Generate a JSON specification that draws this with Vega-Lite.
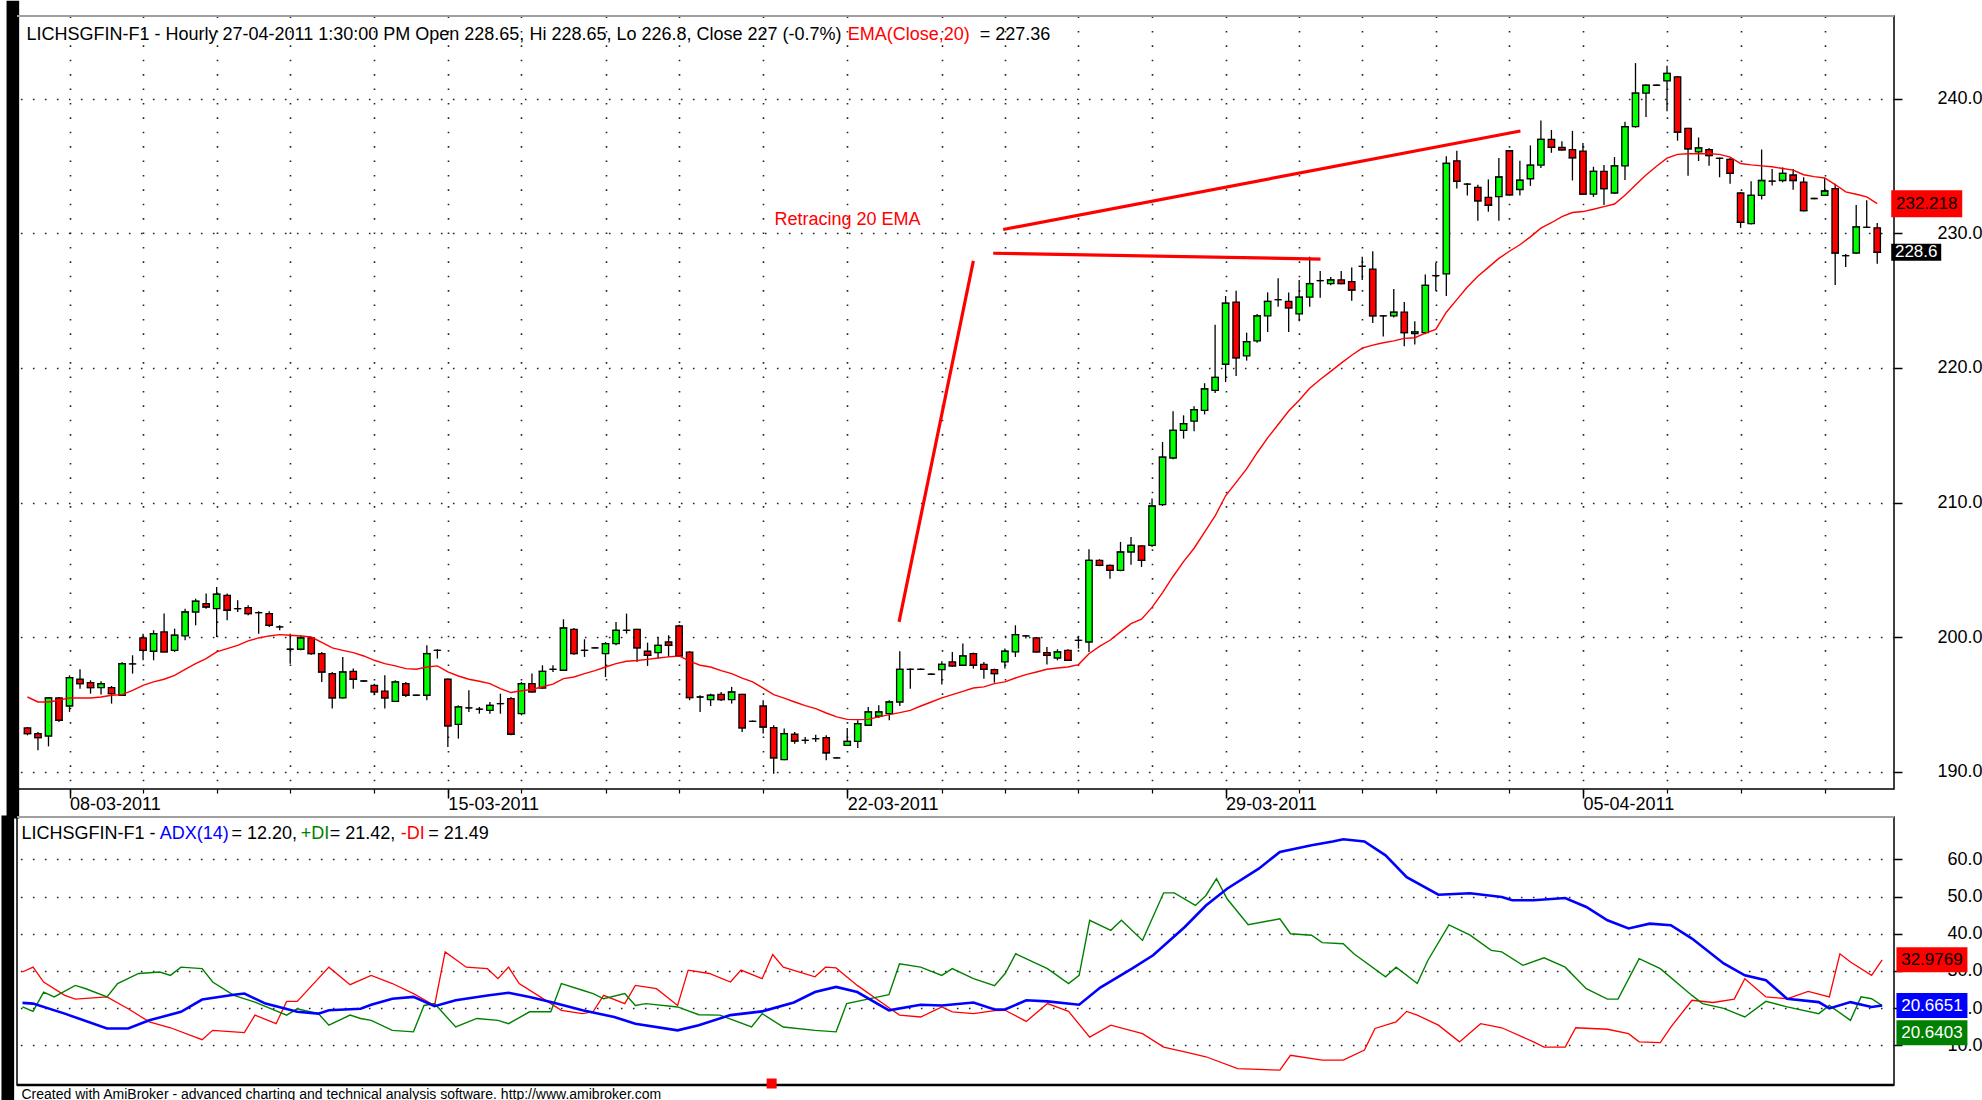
{
"$schema":"https://vega.github.io/schema/vega-lite/v6.json",
"padding":0,
"autosize":{"type":"pad"},
"background":"#ffffff",
"spacing":28,
"bounds":"flush",
"config":{"view":{"stroke":"#000","strokeWidth":1.5},"font":"Liberation Sans","text":{"font":"Liberation Sans"}},
"datasets":{
"ohlc":[
{"i":0,"o":193.24,"h":193.31,"l":192.69,"c":192.82,"e":195.54},
{"i":1,"o":192.82,"h":192.94,"l":191.58,"c":192.52,"e":195.17},
{"i":2,"o":192.64,"h":195.54,"l":191.87,"c":195.47,"e":195.17},
{"i":3,"o":195.47,"h":195.54,"l":193.68,"c":193.81,"e":195.3},
{"i":4,"o":194.87,"h":197.15,"l":194.43,"c":196.98,"e":195.47},
{"i":5,"o":196.86,"h":197.6,"l":196.16,"c":196.53,"e":195.47},
{"i":6,"o":196.61,"h":196.78,"l":195.79,"c":196.24,"e":195.47},
{"i":7,"o":196.24,"h":196.71,"l":195.72,"c":196.53,"e":195.54},
{"i":8,"o":196.24,"h":196.36,"l":195.05,"c":195.79,"e":195.67},
{"i":9,"o":195.67,"h":198.15,"l":195.67,"c":198.02,"e":195.72},
{"i":10,"o":198.0,"h":198.64,"l":197.28,"c":198.0,"e":196.04},
{"i":11,"o":199.93,"h":200.25,"l":198.27,"c":199.01,"e":196.41},
{"i":12,"o":198.94,"h":200.5,"l":198.27,"c":200.25,"e":196.66},
{"i":13,"o":200.38,"h":201.74,"l":198.89,"c":198.89,"e":196.86},
{"i":14,"o":199.01,"h":200.62,"l":198.89,"c":200.13,"e":197.15},
{"i":15,"o":200.08,"h":202.11,"l":199.76,"c":201.86,"e":197.6},
{"i":16,"o":201.86,"h":202.85,"l":200.87,"c":202.66,"e":198.02},
{"i":17,"o":202.48,"h":203.23,"l":202.11,"c":202.23,"e":198.39},
{"i":18,"o":202.11,"h":203.72,"l":200.0,"c":203.18,"e":198.89},
{"i":19,"o":203.1,"h":203.23,"l":201.24,"c":201.99,"e":199.14},
{"i":20,"o":202.11,"h":202.73,"l":201.86,"c":202.11,"e":199.38},
{"i":21,"o":202.18,"h":202.36,"l":201.62,"c":201.74,"e":199.71},
{"i":22,"o":201.81,"h":201.91,"l":200.25,"c":201.81,"e":199.93},
{"i":23,"o":201.74,"h":201.91,"l":200.75,"c":200.87,"e":200.08},
{"i":24,"o":200.75,"h":200.87,"l":200.5,"c":200.75,"e":200.18},
{"i":25,"o":199.09,"h":200.25,"l":198.02,"c":199.09,"e":200.13},
{"i":26,"o":199.09,"h":200.13,"l":199.01,"c":199.93,"e":200.08},
{"i":27,"o":199.93,"h":200.0,"l":198.69,"c":198.77,"e":200.0},
{"i":28,"o":198.77,"h":198.89,"l":196.66,"c":197.4,"e":199.6},
{"i":29,"o":197.28,"h":197.4,"l":194.68,"c":195.47,"e":199.19},
{"i":30,"o":195.47,"h":198.52,"l":195.42,"c":197.4,"e":199.01},
{"i":31,"o":197.45,"h":197.65,"l":196.16,"c":196.86,"e":198.84},
{"i":32,"o":196.73,"h":196.78,"l":196.7,"c":196.73,"e":198.59},
{"i":33,"o":196.41,"h":196.53,"l":195.67,"c":195.92,"e":198.27},
{"i":34,"o":195.97,"h":197.15,"l":194.68,"c":195.47,"e":198.02},
{"i":35,"o":195.22,"h":196.78,"l":195.17,"c":196.66,"e":197.85},
{"i":36,"o":196.53,"h":196.66,"l":195.54,"c":195.67,"e":197.65},
{"i":37,"o":195.67,"h":195.7,"l":195.64,"c":195.67,"e":197.6},
{"i":38,"o":195.67,"h":199.38,"l":195.3,"c":198.77,"e":197.77},
{"i":39,"o":199.01,"h":199.09,"l":198.4,"c":199.01,"e":197.85},
{"i":40,"o":196.86,"h":196.91,"l":191.83,"c":193.39,"e":197.4},
{"i":41,"o":193.51,"h":194.92,"l":192.45,"c":194.8,"e":197.1},
{"i":42,"o":194.73,"h":196.04,"l":194.43,"c":194.73,"e":196.86},
{"i":43,"o":194.63,"h":194.8,"l":194.3,"c":194.63,"e":196.71},
{"i":44,"o":194.55,"h":195.17,"l":194.3,"c":194.92,"e":196.53},
{"i":45,"o":195.05,"h":195.79,"l":194.3,"c":195.05,"e":196.16},
{"i":46,"o":195.42,"h":195.54,"l":192.69,"c":192.77,"e":195.87},
{"i":47,"o":194.3,"h":196.66,"l":194.18,"c":196.53,"e":196.0},
{"i":48,"o":196.53,"h":197.28,"l":195.87,"c":195.92,"e":196.1},
{"i":49,"o":196.21,"h":197.9,"l":196.16,"c":197.45,"e":196.3},
{"i":50,"o":197.6,"h":197.9,"l":197.4,"c":197.6,"e":196.5},
{"i":51,"o":197.53,"h":201.32,"l":197.53,"c":200.67,"e":196.91},
{"i":52,"o":200.57,"h":200.67,"l":198.69,"c":198.77,"e":197.03},
{"i":53,"o":199.01,"h":199.83,"l":198.52,"c":199.01,"e":197.28},
{"i":54,"o":199.19,"h":199.25,"l":199.15,"c":199.19,"e":197.5},
{"i":55,"o":198.77,"h":199.63,"l":197.03,"c":199.51,"e":197.77},
{"i":56,"o":199.51,"h":201.12,"l":199.38,"c":200.5,"e":198.02},
{"i":57,"o":200.5,"h":201.74,"l":200.25,"c":200.5,"e":198.2},
{"i":58,"o":200.57,"h":200.62,"l":198.15,"c":199.19,"e":198.25},
{"i":59,"o":198.94,"h":199.58,"l":197.85,"c":198.64,"e":198.34},
{"i":60,"o":198.84,"h":200.0,"l":198.4,"c":199.38,"e":198.44},
{"i":61,"o":199.63,"h":200.13,"l":198.52,"c":199.38,"e":198.52},
{"i":62,"o":200.82,"h":200.92,"l":198.52,"c":198.59,"e":198.59},
{"i":63,"o":198.87,"h":198.95,"l":195.3,"c":195.5,"e":198.2},
{"i":64,"o":195.54,"h":195.67,"l":194.43,"c":195.54,"e":197.9},
{"i":65,"o":195.35,"h":195.79,"l":194.87,"c":195.67,"e":197.77},
{"i":66,"o":195.74,"h":195.91,"l":195.24,"c":195.35,"e":197.5},
{"i":67,"o":195.35,"h":196.29,"l":195.05,"c":195.91,"e":197.28},
{"i":68,"o":195.74,"h":195.79,"l":192.94,"c":193.24,"e":196.95},
{"i":69,"o":193.73,"h":193.8,"l":193.68,"c":193.73,"e":196.66},
{"i":70,"o":194.87,"h":195.3,"l":192.82,"c":193.31,"e":196.2},
{"i":71,"o":193.26,"h":193.44,"l":189.84,"c":191.01,"e":195.72},
{"i":72,"o":190.88,"h":193.19,"l":190.83,"c":192.82,"e":195.45},
{"i":73,"o":192.77,"h":192.94,"l":192.07,"c":192.27,"e":195.17},
{"i":74,"o":192.32,"h":192.57,"l":192.07,"c":192.32,"e":194.9},
{"i":75,"o":192.44,"h":192.74,"l":192.2,"c":192.44,"e":194.68},
{"i":76,"o":192.52,"h":192.69,"l":190.83,"c":191.38,"e":194.35},
{"i":77,"o":191.01,"h":191.05,"l":190.97,"c":191.01,"e":194.06},
{"i":78,"o":191.95,"h":193.24,"l":191.9,"c":192.24,"e":193.88},
{"i":79,"o":192.24,"h":193.81,"l":191.75,"c":193.56,"e":193.86},
{"i":80,"o":193.44,"h":194.8,"l":193.39,"c":194.43,"e":193.88},
{"i":81,"o":194.11,"h":194.92,"l":193.98,"c":194.43,"e":194.06},
{"i":82,"o":194.3,"h":195.3,"l":193.81,"c":195.17,"e":194.23},
{"i":83,"o":195.17,"h":198.94,"l":194.87,"c":197.6,"e":194.38},
{"i":84,"o":197.6,"h":197.65,"l":196.16,"c":197.6,"e":194.55},
{"i":85,"o":197.6,"h":197.65,"l":197.55,"c":197.6,"e":194.87},
{"i":86,"o":197.23,"h":197.28,"l":197.18,"c":197.23,"e":195.17},
{"i":87,"o":197.57,"h":198.2,"l":196.46,"c":197.97,"e":195.47},
{"i":88,"o":198.15,"h":198.89,"l":197.77,"c":197.85,"e":195.72},
{"i":89,"o":197.9,"h":199.51,"l":197.85,"c":198.59,"e":195.96},
{"i":90,"o":198.77,"h":198.84,"l":197.65,"c":197.9,"e":196.21},
{"i":91,"o":197.97,"h":198.15,"l":196.9,"c":197.6,"e":196.29},
{"i":92,"o":197.57,"h":197.65,"l":196.61,"c":197.28,"e":196.53},
{"i":93,"o":198.15,"h":199.14,"l":197.65,"c":198.94,"e":196.66},
{"i":94,"o":198.89,"h":200.87,"l":198.52,"c":200.18,"e":196.95},
{"i":95,"o":200.08,"h":200.13,"l":199.88,"c":200.08,"e":197.2},
{"i":96,"o":199.93,"h":200.0,"l":198.84,"c":198.89,"e":197.4},
{"i":97,"o":198.84,"h":199.26,"l":197.95,"c":198.64,"e":197.6},
{"i":98,"o":198.44,"h":199.09,"l":198.27,"c":198.89,"e":197.7},
{"i":99,"o":199.01,"h":199.09,"l":198.27,"c":198.27,"e":197.77},
{"i":100,"o":199.75,"h":200.0,"l":199.14,"c":199.75,"e":197.95},
{"i":101,"o":199.63,"h":206.52,"l":198.89,"c":205.7,"e":198.76},
{"i":102,"o":205.7,"h":205.78,"l":205.26,"c":205.33,"e":199.3},
{"i":103,"o":205.33,"h":205.4,"l":204.34,"c":204.96,"e":199.76},
{"i":104,"o":204.96,"h":207.07,"l":204.89,"c":206.32,"e":200.38},
{"i":105,"o":206.32,"h":207.44,"l":205.38,"c":206.82,"e":200.99},
{"i":106,"o":206.77,"h":206.82,"l":205.21,"c":205.7,"e":201.32},
{"i":107,"o":206.82,"h":210.29,"l":206.69,"c":209.74,"e":202.2},
{"i":108,"o":209.84,"h":214.5,"l":209.74,"c":213.38,"e":203.3},
{"i":109,"o":213.31,"h":216.78,"l":213.21,"c":215.37,"e":204.5},
{"i":110,"o":215.37,"h":216.48,"l":214.75,"c":215.86,"e":205.6},
{"i":111,"o":216.05,"h":217.15,"l":215.3,"c":216.9,"e":206.6},
{"i":112,"o":216.85,"h":218.87,"l":216.55,"c":218.45,"e":207.8},
{"i":113,"o":218.34,"h":223.22,"l":218.15,"c":219.3,"e":209.0},
{"i":114,"o":220.28,"h":225.35,"l":218.95,"c":224.82,"e":210.5},
{"i":115,"o":224.9,"h":225.75,"l":219.4,"c":220.76,"e":211.5},
{"i":116,"o":220.9,"h":222.63,"l":220.55,"c":221.96,"e":212.5},
{"i":117,"o":222.02,"h":224.02,"l":221.88,"c":223.88,"e":213.7},
{"i":118,"o":223.88,"h":225.62,"l":222.68,"c":224.95,"e":214.8},
{"i":119,"o":225.08,"h":226.68,"l":224.55,"c":225.08,"e":215.8},
{"i":120,"o":224.95,"h":225.62,"l":222.68,"c":224.47,"e":216.8},
{"i":121,"o":224.02,"h":226.55,"l":223.48,"c":225.27,"e":217.6},
{"i":122,"o":225.27,"h":228.28,"l":224.55,"c":226.28,"e":218.5},
{"i":123,"o":226.5,"h":227.22,"l":225.22,"c":226.5,"e":219.14},
{"i":124,"o":226.28,"h":226.76,"l":226.15,"c":226.55,"e":219.75},
{"i":125,"o":226.55,"h":227.22,"l":226.23,"c":226.28,"e":220.36},
{"i":126,"o":226.42,"h":227.48,"l":225.0,"c":225.8,"e":220.95},
{"i":127,"o":227.56,"h":228.28,"l":226.55,"c":227.56,"e":221.48},
{"i":128,"o":227.35,"h":228.68,"l":223.35,"c":223.88,"e":221.7},
{"i":129,"o":223.88,"h":223.93,"l":222.34,"c":223.88,"e":221.88},
{"i":130,"o":223.88,"h":225.88,"l":223.75,"c":224.15,"e":222.02},
{"i":131,"o":224.15,"h":224.9,"l":221.62,"c":222.63,"e":222.2},
{"i":132,"o":222.55,"h":223.48,"l":221.75,"c":222.68,"e":222.25},
{"i":133,"o":222.63,"h":226.95,"l":222.5,"c":226.15,"e":222.6},
{"i":134,"o":226.87,"h":227.83,"l":225.75,"c":226.87,"e":222.87},
{"i":135,"o":227.0,"h":235.75,"l":225.35,"c":235.22,"e":224.15},
{"i":136,"o":235.4,"h":236.15,"l":233.35,"c":233.88,"e":225.08},
{"i":137,"o":233.67,"h":233.75,"l":232.82,"c":233.67,"e":226.02},
{"i":138,"o":233.43,"h":233.62,"l":230.95,"c":232.42,"e":226.82},
{"i":139,"o":232.68,"h":234.02,"l":231.62,"c":232.1,"e":227.48},
{"i":140,"o":232.74,"h":235.62,"l":230.95,"c":234.2,"e":228.15},
{"i":141,"o":236.15,"h":236.2,"l":232.82,"c":232.87,"e":228.68},
{"i":142,"o":233.27,"h":235.4,"l":232.82,"c":233.96,"e":229.16},
{"i":143,"o":234.07,"h":236.55,"l":233.54,"c":235.08,"e":229.75},
{"i":144,"o":235.08,"h":238.4,"l":234.87,"c":237.0,"e":230.4},
{"i":145,"o":237.0,"h":237.7,"l":236.0,"c":236.4,"e":230.8},
{"i":146,"o":236.41,"h":236.85,"l":236.17,"c":236.22,"e":231.25},
{"i":147,"o":236.24,"h":237.63,"l":233.94,"c":235.63,"e":231.56},
{"i":148,"o":236.12,"h":236.73,"l":232.92,"c":232.92,"e":231.63},
{"i":149,"o":232.92,"h":234.96,"l":232.72,"c":234.62,"e":231.8},
{"i":150,"o":234.62,"h":235.1,"l":232.12,"c":233.33,"e":232.0},
{"i":151,"o":233.01,"h":235.68,"l":232.96,"c":235.03,"e":232.19},
{"i":152,"o":235.03,"h":238.3,"l":233.98,"c":237.94,"e":232.84},
{"i":153,"o":237.94,"h":242.67,"l":237.87,"c":240.44,"e":233.6},
{"i":154,"o":240.44,"h":241.1,"l":238.67,"c":241.02,"e":234.35},
{"i":155,"o":241.02,"h":241.07,"l":240.97,"c":241.02,"e":235.0},
{"i":156,"o":241.34,"h":242.48,"l":239.08,"c":241.9,"e":235.6},
{"i":157,"o":241.65,"h":241.7,"l":236.9,"c":237.53,"e":235.88},
{"i":158,"o":237.82,"h":237.87,"l":234.3,"c":236.29,"e":235.93},
{"i":159,"o":236.07,"h":237.14,"l":235.39,"c":236.36,"e":235.93},
{"i":160,"o":236.24,"h":236.36,"l":235.03,"c":235.8,"e":235.93},
{"i":161,"o":235.59,"h":235.64,"l":234.18,"c":235.59,"e":235.88},
{"i":162,"o":235.51,"h":235.64,"l":233.69,"c":234.47,"e":235.68},
{"i":163,"o":233.01,"h":233.09,"l":230.42,"c":230.83,"e":235.2},
{"i":164,"o":230.73,"h":233.89,"l":230.66,"c":232.84,"e":235.1},
{"i":165,"o":232.84,"h":236.24,"l":232.53,"c":233.94,"e":235.03},
{"i":166,"o":233.89,"h":234.79,"l":233.57,"c":233.89,"e":234.96},
{"i":167,"o":233.94,"h":234.91,"l":233.81,"c":234.47,"e":234.83},
{"i":168,"o":234.35,"h":234.79,"l":233.26,"c":233.94,"e":234.71},
{"i":169,"o":233.82,"h":234.18,"l":231.63,"c":231.7,"e":234.37},
{"i":170,"o":232.6,"h":232.65,"l":232.55,"c":232.6,"e":234.23},
{"i":171,"o":232.84,"h":234.13,"l":232.84,"c":233.16,"e":234.13},
{"i":172,"o":233.33,"h":233.69,"l":226.17,"c":228.55,"e":233.64},
{"i":173,"o":228.35,"h":228.48,"l":227.5,"c":228.35,"e":233.09},
{"i":174,"o":228.55,"h":232.12,"l":228.48,"c":230.49,"e":232.92},
{"i":175,"o":230.46,"h":232.48,"l":230.42,"c":230.46,"e":232.72},
{"i":176,"o":230.42,"h":230.78,"l":227.75,"c":228.6,"e":232.22}
],
"ann":[
{"g":"a","i":82.93,"p":201.12},{"g":"a","i":90.0,"p":227.96},
{"g":"b","i":91.89,"p":228.53},{"g":"b","i":123.03,"p":228.1},
{"g":"c","i":92.84,"p":230.3},{"g":"c","i":142.05,"p":237.62}
],
"adx":[
{"i":0,"v":21.4},{"i":1,"v":21.2},{"i":4,"v":18.5},{"i":8,"v":14.5},{"i":10,"v":14.5},{"i":12,"v":16.7},{"i":15,"v":19.0},{"i":17,"v":22.3},{"i":20,"v":23.6},{"i":21,"v":23.9},{"i":23,"v":21.2},{"i":26,"v":19.0},{"i":28,"v":18.5},{"i":29,"v":19.4},{"i":32,"v":19.8},{"i":33,"v":20.9},{"i":35,"v":22.5},{"i":37,"v":23.0},{"i":39,"v":20.5},{"i":41,"v":22.1},{"i":44,"v":23.4},{"i":46,"v":24.1},{"i":48,"v":23.0},{"i":50,"v":21.6},{"i":53,"v":19.4},{"i":54,"v":18.8},{"i":56,"v":17.6},{"i":58,"v":15.8},{"i":62,"v":14.0},{"i":64,"v":15.4},{"i":67,"v":18.1},{"i":70,"v":19.1},{"i":73,"v":21.5},{"i":75,"v":24.3},{"i":77,"v":25.7},{"i":79,"v":24.3},{"i":82,"v":19.4},{"i":85,"v":20.9},{"i":87,"v":20.7},{"i":90,"v":21.5},{"i":92,"v":19.6},{"i":93,"v":19.6},{"i":95,"v":22.1},{"i":97,"v":21.8},{"i":100,"v":20.9},{"i":102,"v":25.5},{"i":105,"v":30.6},{"i":107,"v":34.2},{"i":110,"v":41.8},{"i":112,"v":47.6},{"i":114,"v":52.1},{"i":117,"v":57.5},{"i":119,"v":62.0},{"i":122,"v":63.8},{"i":124,"v":64.8},{"i":125,"v":65.4},{"i":127,"v":64.8},{"i":129,"v":61.1},{"i":131,"v":55.2},{"i":134,"v":50.5},{"i":137,"v":50.9},{"i":140,"v":49.9},{"i":141,"v":49.0},{"i":143,"v":49.0},{"i":146,"v":49.6},{"i":148,"v":47.2},{"i":150,"v":43.6},{"i":152,"v":41.4},{"i":154,"v":42.7},{"i":156,"v":42.3},{"i":158,"v":38.7},{"i":161,"v":32.0},{"i":163,"v":28.8},{"i":165,"v":27.5},{"i":167,"v":22.5},{"i":170,"v":21.6},{"i":171,"v":19.9},{"i":173,"v":21.6},{"i":175,"v":20.3},{"i":176,"v":20.67}
],
"pdi":[
{"i":0,"v":20.3},{"i":1,"v":19.1},{"i":2,"v":24.3},{"i":3,"v":23.0},{"i":5,"v":26.1},{"i":6,"v":25.2},{"i":8,"v":23.0},{"i":9,"v":26.6},{"i":11,"v":29.3},{"i":13,"v":29.7},{"i":14,"v":28.8},{"i":15,"v":31.0},{"i":17,"v":30.6},{"i":18,"v":27.0},{"i":20,"v":23.4},{"i":22,"v":21.6},{"i":25,"v":18.1},{"i":26,"v":19.8},{"i":28,"v":18.5},{"i":29,"v":15.4},{"i":31,"v":18.1},{"i":32,"v":17.2},{"i":33,"v":16.7},{"i":35,"v":14.0},{"i":37,"v":13.6},{"i":38,"v":20.7},{"i":39,"v":21.2},{"i":41,"v":14.9},{"i":43,"v":17.2},{"i":45,"v":16.7},{"i":46,"v":15.8},{"i":48,"v":19.0},{"i":50,"v":19.0},{"i":51,"v":26.6},{"i":53,"v":24.8},{"i":54,"v":23.9},{"i":55,"v":22.5},{"i":57,"v":23.9},{"i":58,"v":20.7},{"i":59,"v":21.2},{"i":62,"v":20.3},{"i":64,"v":18.2},{"i":66,"v":18.1},{"i":69,"v":14.9},{"i":70,"v":18.5},{"i":72,"v":14.9},{"i":75,"v":14.0},{"i":77,"v":13.6},{"i":78,"v":21.2},{"i":81,"v":23.0},{"i":82,"v":23.6},{"i":83,"v":31.9},{"i":85,"v":31.0},{"i":87,"v":28.8},{"i":88,"v":30.6},{"i":90,"v":27.9},{"i":92,"v":26.0},{"i":93,"v":29.3},{"i":94,"v":34.6},{"i":97,"v":30.6},{"i":99,"v":26.6},{"i":100,"v":28.8},{"i":101,"v":43.6},{"i":103,"v":40.9},{"i":104,"v":43.6},{"i":106,"v":38.2},{"i":108,"v":51.0},{"i":109,"v":51.0},{"i":111,"v":47.6},{"i":112,"v":50.3},{"i":113,"v":54.8},{"i":114,"v":49.4},{"i":116,"v":42.4},{"i":119,"v":44.0},{"i":120,"v":40.0},{"i":122,"v":39.6},{"i":123,"v":37.6},{"i":125,"v":37.3},{"i":126,"v":34.6},{"i":129,"v":28.4},{"i":130,"v":31.0},{"i":132,"v":26.6},{"i":133,"v":32.8},{"i":135,"v":42.4},{"i":137,"v":39.6},{"i":139,"v":35.5},{"i":140,"v":35.1},{"i":142,"v":31.5},{"i":144,"v":33.5},{"i":146,"v":31.0},{"i":148,"v":25.2},{"i":150,"v":22.4},{"i":151,"v":22.4},{"i":153,"v":33.3},{"i":155,"v":30.6},{"i":158,"v":23.4},{"i":159,"v":21.2},{"i":161,"v":19.9},{"i":163,"v":17.6},{"i":165,"v":21.8},{"i":167,"v":20.3},{"i":170,"v":18.5},{"i":171,"v":20.7},{"i":173,"v":16.7},{"i":174,"v":23.0},{"i":175,"v":22.5},{"i":176,"v":20.64}
],
"mdi":[
{"i":0,"v":29.7},{"i":1,"v":31.0},{"i":2,"v":27.0},{"i":4,"v":23.4},{"i":5,"v":22.4},{"i":8,"v":23.0},{"i":10,"v":19.8},{"i":12,"v":16.3},{"i":14,"v":14.7},{"i":17,"v":11.5},{"i":18,"v":14.0},{"i":21,"v":13.4},{"i":22,"v":18.1},{"i":24,"v":15.8},{"i":25,"v":21.8},{"i":26,"v":21.8},{"i":29,"v":31.0},{"i":31,"v":26.3},{"i":33,"v":28.8},{"i":35,"v":26.6},{"i":37,"v":23.9},{"i":39,"v":20.7},{"i":40,"v":35.1},{"i":42,"v":31.0},{"i":44,"v":30.6},{"i":45,"v":27.9},{"i":46,"v":31.0},{"i":47,"v":26.6},{"i":49,"v":23.0},{"i":51,"v":19.4},{"i":53,"v":18.5},{"i":54,"v":19.0},{"i":55,"v":23.4},{"i":57,"v":21.2},{"i":58,"v":26.1},{"i":60,"v":25.2},{"i":62,"v":20.7},{"i":63,"v":30.2},{"i":65,"v":29.3},{"i":67,"v":27.0},{"i":68,"v":30.2},{"i":70,"v":27.9},{"i":71,"v":34.4},{"i":72,"v":31.0},{"i":75,"v":28.4},{"i":76,"v":31.0},{"i":77,"v":30.8},{"i":79,"v":26.1},{"i":81,"v":22.1},{"i":83,"v":18.1},{"i":85,"v":17.6},{"i":87,"v":20.3},{"i":88,"v":19.0},{"i":90,"v":18.5},{"i":92,"v":19.3},{"i":93,"v":19.4},{"i":95,"v":16.4},{"i":97,"v":21.2},{"i":99,"v":19.1},{"i":101,"v":12.2},{"i":103,"v":15.4},{"i":106,"v":13.1},{"i":108,"v":9.5},{"i":110,"v":8.2},{"i":112,"v":6.9},{"i":115,"v":3.7},{"i":119,"v":3.3},{"i":120,"v":7.3},{"i":123,"v":6.0},{"i":125,"v":6.0},{"i":127,"v":8.7},{"i":128,"v":14.5},{"i":130,"v":16.3},{"i":131,"v":19.1},{"i":132,"v":18.1},{"i":134,"v":15.4},{"i":136,"v":10.9},{"i":138,"v":15.8},{"i":140,"v":14.7},{"i":143,"v":10.9},{"i":144,"v":9.5},{"i":146,"v":9.5},{"i":147,"v":14.7},{"i":150,"v":14.3},{"i":152,"v":13.1},{"i":153,"v":10.9},{"i":155,"v":10.7},{"i":156,"v":14.9},{"i":158,"v":22.1},{"i":160,"v":21.5},{"i":162,"v":22.4},{"i":163,"v":27.9},{"i":165,"v":23.0},{"i":167,"v":22.5},{"i":169,"v":24.5},{"i":171,"v":23.0},{"i":172,"v":34.6},{"i":173,"v":32.4},{"i":175,"v":28.8},{"i":176,"v":32.98}
]
},
"vconcat":[
{
"width":1877,"height":773,
"resolve":{"axis":{"x":"independent"}},
"layer":[
{"data":{"values":[{}]},"mark":{"type":"rect","color":"#000","clip":false},
 "encoding":{
  "x":{"datum":-1.99,"type":"quantitative","scale":{"domain":[-0.52,177.12],"nice":false,"zero":false},"axis":null},
  "x2":{"datum":-0.79},
  "y":{"datum":247.3,"type":"quantitative","scale":{"domain":[188.7,246.17],"nice":false,"zero":false},"title":null},
  "y2":{"datum":186.5}}},
{"data":{"name":"ohlc"},"mark":{"type":"rule","color":"#000","strokeWidth":1.3},
 "encoding":{
  "x":{"field":"i","type":"quantitative","scale":{"domain":[-0.52,177.12],"nice":false,"zero":false},"title":null,
   "axis":{"orient":"bottom","values":[4,11,18,25,33,40,47,55,62,70,78,87,93,100,107,114,121,127,134,141,148,156,163,171],"grid":true,"gridDash":[1.6,12.8],"gridColor":"#222","gridWidth":1.6,"gridOpacity":1,"labels":false,"domain":false,"ticks":true,"tickSize":4,"tickColor":"#000","tickWidth":1.2,"title":null}},
  "y":{"field":"l","type":"quantitative","scale":{"domain":[188.7,246.17],"nice":false,"zero":false},"title":null,
   "axis":{"orient":"right","values":[190,200,210,220,230,240],"format":".1f","grid":true,"gridDash":[1.6,10.4],"gridColor":"#222","gridWidth":1.6,"gridOpacity":1,"domain":false,"ticks":true,"tickSize":8,"tickColor":"#000","tickWidth":1.5,"labelFont":"Liberation Sans","labelFontSize":18,"labelColor":"#000","labelAlign":"right","labelBaseline":"middle","labelPadding":80,"title":null}},
  "y2":{"field":"h"}}},
{"data":{"name":"ohlc"},"mark":{"type":"bar","width":6.4,"stroke":"#000","strokeWidth":1.3},
 "encoding":{
  "x":{"field":"i","type":"quantitative","scale":{"domain":[-0.52,177.12],"nice":false,"zero":false},"axis":null},
  "y":{"field":"o","type":"quantitative","scale":{"domain":[188.7,246.17],"nice":false,"zero":false},"title":null},
  "y2":{"field":"c"},
  "color":{"condition":[{"test":"datum.c > datum.o","value":"#00ff00"},{"test":"datum.c < datum.o","value":"#ff0000"}],"value":"#000000"}}},
{"data":{"name":"ohlc"},"mark":{"type":"tick","orient":"horizontal","size":7.7,"thickness":1.3,"color":"#000"},
 "encoding":{
  "x":{"field":"i","type":"quantitative","scale":{"domain":[-0.52,177.12],"nice":false,"zero":false},"axis":null},
  "y":{"field":"c","type":"quantitative","scale":{"domain":[188.7,246.17],"nice":false,"zero":false},"title":null}}},
{"data":{"name":"ohlc"},"mark":{"type":"line","color":"#ff0000","strokeWidth":1.4},
 "encoding":{
  "x":{"field":"i","type":"quantitative","scale":{"domain":[-0.52,177.12],"nice":false,"zero":false},"title":null,
   "axis":{"orient":"bottom","values":[4,40,78,114,148],"grid":false,"domain":false,"ticks":true,"tickSize":9,"tickColor":"#000","tickWidth":1.5,
    "labelExpr":"datum.value == 4 ? '08-03-2011' : datum.value == 40 ? '15-03-2011' : datum.value == 78 ? '22-03-2011' : datum.value == 114 ? '29-03-2011' : '05-04-2011'",
    "labelFont":"Liberation Sans","labelFontSize":18,"labelColor":"#000","labelAlign":"left","labelBaseline":"alphabetic","labelPadding":11,"labelDx":5,"labelOverlap":false,"labelFlush":false,"labelBound":false,"title":null}},
  "y":{"field":"e","type":"quantitative","scale":{"domain":[188.7,246.17],"nice":false,"zero":false},"title":null}}},
{"data":{"name":"ann"},"mark":{"type":"line","color":"#ff0000","strokeWidth":3.2},
 "encoding":{
  "x":{"field":"i","type":"quantitative","scale":{"domain":[-0.52,177.12],"nice":false,"zero":false},"axis":null},
  "y":{"field":"p","type":"quantitative","scale":{"domain":[188.7,246.17],"nice":false,"zero":false},"title":null},
  "detail":{"field":"g","type":"nominal"}}},
{"data":{"values":[{}]},"mark":{"type":"rule","color":"#a0a0a0","strokeWidth":2},
 "encoding":{"y":{"datum":246.17,"type":"quantitative","scale":{"domain":[188.7,246.17],"nice":false,"zero":false},"title":null}}},
{"data":{"values":[{}]},"mark":{"type":"text","text":"LICHSGFIN-F1 - Hourly 27-04-2011 1:30:00 PM Open 228.65, Hi 228.65, Lo 226.8, Close 227 (-0.7%)","font":"Liberation Sans","fontSize":18,"align":"left","baseline":"alphabetic","color":"#000","clip":false},
 "encoding":{"x":{"datum":-0.095,"type":"quantitative","scale":{"domain":[-0.52,177.12],"nice":false,"zero":false},"axis":null},"y":{"datum":244.42,"type":"quantitative","scale":{"domain":[188.7,246.17],"nice":false,"zero":false},"title":null}}},
{"data":{"values":[{}]},"mark":{"type":"text","text":"EMA(Close,20)","font":"Liberation Sans","fontSize":18,"align":"left","baseline":"alphabetic","color":"#ff0000","clip":false},
 "encoding":{"x":{"datum":78.04,"type":"quantitative","scale":{"domain":[-0.52,177.12],"nice":false,"zero":false},"axis":null},"y":{"datum":244.42,"type":"quantitative","scale":{"domain":[188.7,246.17],"nice":false,"zero":false},"title":null}}},
{"data":{"values":[{}]},"mark":{"type":"text","text":"= 227.36","font":"Liberation Sans","fontSize":18,"align":"left","baseline":"alphabetic","color":"#000","clip":false},
 "encoding":{"x":{"datum":90.6,"type":"quantitative","scale":{"domain":[-0.52,177.12],"nice":false,"zero":false},"axis":null},"y":{"datum":244.42,"type":"quantitative","scale":{"domain":[188.7,246.17],"nice":false,"zero":false},"title":null}}},
{"data":{"values":[{}]},"mark":{"type":"text","text":"Retracing 20 EMA","font":"Liberation Sans","fontSize":18,"align":"left","baseline":"alphabetic","color":"#ff0000","clip":false},
 "encoding":{"x":{"datum":71.07,"type":"quantitative","scale":{"domain":[-0.52,177.12],"nice":false,"zero":false},"axis":null},"y":{"datum":230.61,"type":"quantitative","scale":{"domain":[188.7,246.17],"nice":false,"zero":false},"title":null}}},
{"data":{"values":[{"v":232.218,"t":"232.218"}]},"mark":{"type":"point","shape":"M-1,-0.38H1V0.38H-1Z","size":5041,"filled":true,"color":"#ff0000","opacity":1,"clip":false},
 "encoding":{"x":{"datum":180.71,"type":"quantitative","scale":{"domain":[-0.52,177.12],"nice":false,"zero":false},"axis":null},"y":{"field":"v","type":"quantitative","scale":{"domain":[188.7,246.17],"nice":false,"zero":false},"title":null}}},
{"data":{"values":[{"v":232.218,"t":"232.218"}]},"mark":{"type":"text","font":"Liberation Sans","fontSize":17,"align":"center","baseline":"middle","color":"#000","clip":false},
 "encoding":{"x":{"datum":180.71,"type":"quantitative","scale":{"domain":[-0.52,177.12],"nice":false,"zero":false},"axis":null},"y":{"field":"v","type":"quantitative","scale":{"domain":[188.7,246.17],"nice":false,"zero":false},"title":null},"text":{"field":"t"}}},
{"data":{"values":[{"v":228.6,"t":"228.6"}]},"mark":{"type":"point","shape":"M-1,-0.34H1V0.34H-1Z","size":2500,"filled":true,"color":"#000","opacity":1,"clip":false},
 "encoding":{"x":{"datum":179.71,"type":"quantitative","scale":{"domain":[-0.52,177.12],"nice":false,"zero":false},"axis":null},"y":{"field":"v","type":"quantitative","scale":{"domain":[188.7,246.17],"nice":false,"zero":false},"title":null}}},
{"data":{"values":[{"v":228.6,"t":"228.6"}]},"mark":{"type":"text","font":"Liberation Sans","fontSize":17,"align":"center","baseline":"middle","color":"#fff","clip":false},
 "encoding":{"x":{"datum":179.71,"type":"quantitative","scale":{"domain":[-0.52,177.12],"nice":false,"zero":false},"axis":null},"y":{"field":"v","type":"quantitative","scale":{"domain":[188.7,246.17],"nice":false,"zero":false},"title":null},"text":{"field":"t"}}}
]
},
{
"width":1877,"height":268,
"layer":[
{"data":{"values":[{}]},"mark":{"type":"rect","color":"#000","clip":false},
 "encoding":{
  "x":{"datum":-1.99,"type":"quantitative","scale":{"domain":[-0.52,177.12],"nice":false,"zero":false},"axis":null},
  "x2":{"datum":-0.79},
  "y":{"datum":71.8,"type":"quantitative","scale":{"domain":[-0.7,71.4],"nice":false,"zero":false},"title":null},
  "y2":{"datum":-5.3}}},
{"data":{"name":"mdi"},"mark":{"type":"line","color":"#ff0000","strokeWidth":1.3},
 "encoding":{
  "x":{"field":"i","type":"quantitative","scale":{"domain":[-0.52,177.12],"nice":false,"zero":false},"axis":null},
  "y":{"field":"v","type":"quantitative","scale":{"domain":[-0.7,71.4],"nice":false,"zero":false},"title":null,
   "axis":{"orient":"right","values":[10,20,30,40,50,60],"format":".1f","grid":true,"gridDash":[1.6,10.4],"gridColor":"#222","gridWidth":1.6,"gridOpacity":1,"domain":false,"ticks":true,"tickSize":8,"tickColor":"#000","tickWidth":1.5,"labelFont":"Liberation Sans","labelFontSize":18,"labelColor":"#000","labelAlign":"right","labelBaseline":"middle","labelPadding":80,"title":null}}}},
{"data":{"name":"pdi"},"mark":{"type":"line","color":"#008000","strokeWidth":1.4},
 "encoding":{
  "x":{"field":"i","type":"quantitative","scale":{"domain":[-0.52,177.12],"nice":false,"zero":false},"axis":null},
  "y":{"field":"v","type":"quantitative","scale":{"domain":[-0.7,71.4],"nice":false,"zero":false},"title":null}}},
{"data":{"name":"adx"},"mark":{"type":"line","color":"#0000ff","strokeWidth":2.6},
 "encoding":{
  "x":{"field":"i","type":"quantitative","scale":{"domain":[-0.52,177.12],"nice":false,"zero":false},"axis":null},
  "y":{"field":"v","type":"quantitative","scale":{"domain":[-0.7,71.4],"nice":false,"zero":false},"title":null}}},
{"data":{"values":[{}]},"mark":{"type":"rule","color":"#a0a0a0","strokeWidth":2},
 "encoding":{"y":{"datum":71.4,"type":"quantitative","scale":{"domain":[-0.7,71.4],"nice":false,"zero":false},"title":null}}},
{"data":{"values":[{}]},"mark":{"type":"rule","color":"#000","strokeWidth":2.5},
 "encoding":{"y":{"datum":-0.7,"type":"quantitative","scale":{"domain":[-0.7,71.4],"nice":false,"zero":false},"title":null}}},
{"data":{"values":[{}]},"mark":{"type":"text","text":"LICHSGFIN-F1 -","font":"Liberation Sans","fontSize":18,"align":"left","baseline":"alphabetic","color":"#000","clip":false},
 "encoding":{"x":{"datum":-0.095,"type":"quantitative","scale":{"domain":[-0.52,177.12],"nice":false,"zero":false},"axis":null},"y":{"datum":65.46,"type":"quantitative","scale":{"domain":[-0.7,71.4],"nice":false,"zero":false},"title":null}}},
{"data":{"values":[{}]},"mark":{"type":"text","text":"ADX(14)","font":"Liberation Sans","fontSize":18,"align":"left","baseline":"alphabetic","color":"#0000ff","clip":false},
 "encoding":{"x":{"datum":12.99,"type":"quantitative","scale":{"domain":[-0.52,177.12],"nice":false,"zero":false},"axis":null},"y":{"datum":65.46,"type":"quantitative","scale":{"domain":[-0.7,71.4],"nice":false,"zero":false},"title":null}}},
{"data":{"values":[{}]},"mark":{"type":"text","text":"= 12.20,","font":"Liberation Sans","fontSize":18,"align":"left","baseline":"alphabetic","color":"#000","clip":false},
 "encoding":{"x":{"datum":19.78,"type":"quantitative","scale":{"domain":[-0.52,177.12],"nice":false,"zero":false},"axis":null},"y":{"datum":65.46,"type":"quantitative","scale":{"domain":[-0.7,71.4],"nice":false,"zero":false},"title":null}}},
{"data":{"values":[{}]},"mark":{"type":"text","text":"+DI","font":"Liberation Sans","fontSize":18,"align":"left","baseline":"alphabetic","color":"#008000","clip":false},
 "encoding":{"x":{"datum":26.34,"type":"quantitative","scale":{"domain":[-0.52,177.12],"nice":false,"zero":false},"axis":null},"y":{"datum":65.46,"type":"quantitative","scale":{"domain":[-0.7,71.4],"nice":false,"zero":false},"title":null}}},
{"data":{"values":[{}]},"mark":{"type":"text","text":"= 21.42,","font":"Liberation Sans","fontSize":18,"align":"left","baseline":"alphabetic","color":"#000","clip":false},
 "encoding":{"x":{"datum":29.08,"type":"quantitative","scale":{"domain":[-0.52,177.12],"nice":false,"zero":false},"axis":null},"y":{"datum":65.46,"type":"quantitative","scale":{"domain":[-0.7,71.4],"nice":false,"zero":false},"title":null}}},
{"data":{"values":[{}]},"mark":{"type":"text","text":"-DI","font":"Liberation Sans","fontSize":18,"align":"left","baseline":"alphabetic","color":"#ff0000","clip":false},
 "encoding":{"x":{"datum":35.8,"type":"quantitative","scale":{"domain":[-0.52,177.12],"nice":false,"zero":false},"axis":null},"y":{"datum":65.46,"type":"quantitative","scale":{"domain":[-0.7,71.4],"nice":false,"zero":false},"title":null}}},
{"data":{"values":[{}]},"mark":{"type":"text","text":"= 21.49","font":"Liberation Sans","fontSize":18,"align":"left","baseline":"alphabetic","color":"#000","clip":false},
 "encoding":{"x":{"datum":38.39,"type":"quantitative","scale":{"domain":[-0.52,177.12],"nice":false,"zero":false},"axis":null},"y":{"datum":65.46,"type":"quantitative","scale":{"domain":[-0.7,71.4],"nice":false,"zero":false},"title":null}}},
{"data":{"values":[{}]},"mark":{"type":"text","text":"Created with AmiBroker - advanced charting and technical analysis software. http://www.amibroker.com","font":"Liberation Sans","fontSize":14,"align":"left","baseline":"alphabetic","color":"#000","clip":false},
 "encoding":{"x":{"datum":-0.095,"type":"quantitative","scale":{"domain":[-0.52,177.12],"nice":false,"zero":false},"axis":null},"y":{"datum":-4.44,"type":"quantitative","scale":{"domain":[-0.7,71.4],"nice":false,"zero":false},"title":null}}},
{"data":{"values":[{}]},"mark":{"type":"point","shape":"square","size":100,"filled":true,"color":"#ff0000","opacity":1,"clip":false},
 "encoding":{"x":{"datum":70.9,"type":"quantitative","scale":{"domain":[-0.52,177.12],"nice":false,"zero":false},"axis":null},"y":{"datum":-0.3,"type":"quantitative","scale":{"domain":[-0.7,71.4],"nice":false,"zero":false},"title":null}}},
{"data":{"values":[{"v":32.9769,"t":"32.9769"}]},"mark":{"type":"point","shape":"M-1,-0.352H1V0.352H-1Z","size":5041,"filled":true,"color":"#ff0000","opacity":1,"clip":false},
 "encoding":{"x":{"datum":180.71,"type":"quantitative","scale":{"domain":[-0.52,177.12],"nice":false,"zero":false},"axis":null},"y":{"field":"v","type":"quantitative","scale":{"domain":[-0.7,71.4],"nice":false,"zero":false},"title":null}}},
{"data":{"values":[{"v":32.9769,"t":"32.9769"}]},"mark":{"type":"text","font":"Liberation Sans","fontSize":17,"align":"center","baseline":"middle","color":"#000","clip":false},
 "encoding":{"x":{"datum":180.71,"type":"quantitative","scale":{"domain":[-0.52,177.12],"nice":false,"zero":false},"axis":null},"y":{"field":"v","type":"quantitative","scale":{"domain":[-0.7,71.4],"nice":false,"zero":false},"title":null},"text":{"field":"t"}}},
{"data":{"values":[{"v":20.6651,"t":"20.6651"}]},"mark":{"type":"point","shape":"M-1,-0.352H1V0.352H-1Z","size":5041,"filled":true,"color":"#0000ff","opacity":1,"clip":false},
 "encoding":{"x":{"datum":180.71,"type":"quantitative","scale":{"domain":[-0.52,177.12],"nice":false,"zero":false},"axis":null},"y":{"field":"v","type":"quantitative","scale":{"domain":[-0.7,71.4],"nice":false,"zero":false},"title":null}}},
{"data":{"values":[{"v":20.6651,"t":"20.6651"}]},"mark":{"type":"text","font":"Liberation Sans","fontSize":17,"align":"center","baseline":"middle","color":"#fff","clip":false},
 "encoding":{"x":{"datum":180.71,"type":"quantitative","scale":{"domain":[-0.52,177.12],"nice":false,"zero":false},"axis":null},"y":{"field":"v","type":"quantitative","scale":{"domain":[-0.7,71.4],"nice":false,"zero":false},"title":null},"text":{"field":"t"}}},
{"data":{"values":[{"v":20.6403,"t":"20.6403"}]},"mark":{"type":"point","shape":"M-1,-0.352H1V0.352H-1Z","size":5041,"filled":true,"color":"#008000","opacity":1,"yOffset":27,"clip":false},
 "encoding":{"x":{"datum":180.71,"type":"quantitative","scale":{"domain":[-0.52,177.12],"nice":false,"zero":false},"axis":null},"y":{"field":"v","type":"quantitative","scale":{"domain":[-0.7,71.4],"nice":false,"zero":false},"title":null}}},
{"data":{"values":[{"v":20.6403,"t":"20.6403"}]},"mark":{"type":"text","font":"Liberation Sans","fontSize":17,"align":"center","baseline":"middle","color":"#fff","yOffset":27,"clip":false},
 "encoding":{"x":{"datum":180.71,"type":"quantitative","scale":{"domain":[-0.52,177.12],"nice":false,"zero":false},"axis":null},"y":{"field":"v","type":"quantitative","scale":{"domain":[-0.7,71.4],"nice":false,"zero":false},"title":null},"text":{"field":"t"}}}
]
}
]
}
